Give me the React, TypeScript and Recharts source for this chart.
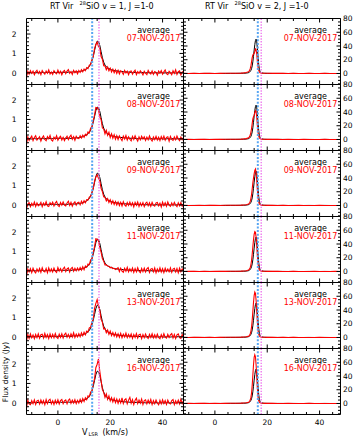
import React from 'react';
import { LineChart, Line, XAxis, YAxis, ReferenceLine } from 'recharts';

// velocity channels (km/s) for the v=1 spectra
const VEL1 = [
  -12, -11.5, -11, -10.5, -10, -9.5, -9, -8.5, -8, -7.5,
  -7, -6.5, -6, -5.5, -5, -4.5, -4, -3.5, -3, -2.5,
  -2, -1.5, -1, -0.5, 0, 0.5, 1, 1.5, 2, 2.5,
  3, 3.5, 4, 4.5, 5, 5.5, 6, 6.5, 7, 7.5,
  8, 8.5, 9, 9.5, 10, 10.5, 11, 11.5, 12, 12.5,
  13, 13.5, 14, 14.5, 15, 15.5, 16, 16.5, 17, 17.5,
  18, 18.5, 19, 19.5, 20, 20.5, 21, 21.5, 22, 22.5,
  23, 23.5, 24, 24.5, 25, 25.5, 26, 26.5, 27, 27.5,
  28, 28.5, 29, 29.5, 30, 30.5, 31, 31.5, 32, 32.5,
  33, 33.5, 34, 34.5, 35, 35.5, 36, 36.5, 37, 37.5,
  38, 38.5, 39, 39.5, 40, 40.5, 41, 41.5, 42, 42.5,
  43, 43.5, 44, 44.5, 45, 45.5, 46, 46.5, 47, 47.5,
  48,
];

const AVG1 = [
  0.01, 0.0, 0.02, 0.01, -0.01, 0.01, 0.02, 0.0, 0.01, 0.02,
  0.0, 0.01, 0.03, 0.01, 0.0, 0.02, 0.01, 0.03, 0.02, 0.01,
  0.02, 0.03, 0.01, 0.02, 0.03, 0.02, 0.04, 0.02, 0.03, 0.02,
  0.03, 0.02, 0.04, 0.03, 0.02, 0.04, 0.05, 0.04, 0.05, 0.06,
  0.06, 0.07, 0.09, 0.11, 0.14, 0.17, 0.21, 0.26, 0.33, 0.45,
  0.62, 0.85, 1.15, 1.45, 1.63, 1.62, 1.42, 1.1, 0.78, 0.55,
  0.4, 0.31, 0.26, 0.22, 0.19, 0.16, 0.14, 0.12, 0.11, 0.1,
  0.09, 0.08, 0.07, 0.07, 0.06, 0.05, 0.05, 0.04, 0.04, 0.03,
  0.03, 0.02, 0.03, 0.02, 0.02, 0.01, 0.02, 0.01, 0.01, 0.02,
  0.01, 0.0, 0.01, 0.01, 0.0, 0.01, 0.0, -0.01, 0.0, 0.01,
  0.0, -0.01, 0.0, 0.01, 0.0, -0.01, 0.0, 0.0, 0.01, 0.0,
  -0.01, 0.0, 0.01, 0.0, -0.01, 0.0, 0.01, 0.0, -0.01, 0.0,
  0.0,
];

const RED1_07 = [
  -0.24, 0.08, -0.06, 0.11, -0.03, 0.09, -0.1, 0.05, 0.13, -0.04,
  0.07, -0.09, 0.12, 0.02, -0.07, 0.1, -0.02, 0.15, -0.06, 0.04,
  -0.08, 0.11, 0.01, -0.05, 0.14, -0.03, 0.08, -0.1, 0.06, 0.12,
  -0.04, 0.09, 0.17, -0.02, 0.07, -0.08, 0.13, 0.01, 0.1, -0.05,
  0.12, 0.02, 0.16, 0.05, 0.2, 0.11, 0.27, 0.22, 0.4, 0.43,
  0.68, 0.82, 1.25, 1.46, 1.58, 1.36, 1.28, 0.84, 0.7, 0.37,
  0.36, 0.16, 0.3, 0.1, 0.24, 0.04, 0.19, 0.0, 0.16, -0.03,
  0.13, -0.06, 0.11, 0.04, -0.08, 0.12, -0.01, 0.09, -0.1, 0.07,
  0.1, -0.07, 0.05, 0.14, -0.09, 0.06, -0.03, 0.11, 0.02, -0.11,
  0.08, -0.02, -0.09, 0.13, 0.01, -0.06, 0.1, -0.08, 0.07, 0.03,
  -0.12, 0.09, -0.01, 0.12, -0.07, 0.05, 0.15, -0.04, -0.09, 0.08,
  0.01, -0.1, 0.11, -0.03, 0.16, -0.08, 0.06, 0.1, -0.11, 0.04,
  0.09,
];

const RED1_08 = [
  -0.28, 0.1, -0.08, 0.04, 0.14, -0.09, 0.07, 0.16, -0.06, 0.02,
  0.11, -0.12, 0.05, 0.15, -0.03, -0.1, 0.12, 0.01, 0.18, -0.05,
  -0.11, 0.09, -0.01, 0.16, -0.07, 0.06, 0.13, -0.06, 0.08, -0.09,
  0.04, 0.14, -0.04, 0.1, 0.19, -0.02, 0.11, -0.08, 0.13, 0.03,
  0.01, 0.16, 0.04, 0.19, 0.08, 0.24, 0.17, 0.36, 0.3, 0.55,
  0.6, 0.94, 1.22, 1.62, 1.6, 1.48, 1.14, 0.99, 0.56, 0.52,
  0.26, 0.44, 0.18, 0.34, 0.07, 0.26, 0.03, 0.21, -0.02, 0.16,
  -0.04, 0.15, 0.02, -0.09, 0.14, -0.01, 0.17, -0.06, 0.11, -0.02,
  -0.1, 0.13, -0.03, 0.16, 0.0, -0.12, 0.1, -0.05, 0.14, -0.01,
  0.11, -0.08, 0.09, -0.05, 0.15, -0.02, -0.11, 0.1, -0.04, 0.13,
  -0.06, 0.09, -0.09, 0.12, -0.03, 0.14, -0.07, 0.08, 0.11, -0.12,
  0.13, -0.03, -0.08, 0.1, -0.05, 0.15, 0.0, -0.09, 0.09, -0.04,
  0.07,
];

const RED1_09 = [
  -0.2, 0.04, 0.12, -0.09, 0.08, -0.04, 0.15, -0.08, 0.1, -0.05,
  0.02, 0.13, -0.1, 0.09, -0.02, 0.16, -0.05, -0.08, 0.11, 0.01,
  0.14, -0.06, 0.09, 0.18, -0.03, -0.09, 0.12, -0.02, 0.15, -0.01,
  -0.06, 0.1, 0.19, -0.03, 0.13, -0.07, 0.08, 0.16, -0.02, 0.11,
  0.14, 0.0, 0.19, 0.06, 0.22, 0.11, 0.27, 0.25, 0.4, 0.44,
  0.64, 0.83, 1.22, 1.44, 1.55, 1.37, 1.24, 0.85, 0.68, 0.41,
  0.39, 0.2, 0.32, 0.12, 0.26, 0.06, 0.21, 0.02, 0.17, -0.01,
  0.15, -0.04, 0.13, -0.06, 0.16, -0.01, -0.07, 0.12, -0.03, 0.14,
  -0.04, 0.11, -0.1, 0.13, -0.02, 0.15, -0.08, 0.1, -0.04, 0.12,
  -0.09, 0.08, 0.14, -0.05, 0.11, -0.08, 0.13, -0.02, -0.07, 0.1,
  0.12, -0.05, 0.09, -0.11, 0.14, -0.04, 0.11, -0.07, 0.15, -0.02,
  -0.08, 0.1, -0.04, 0.13, -0.01, -0.09, 0.11, -0.05, 0.12, -0.07,
  0.06,
];

const RED1_11 = [
  -0.27, 0.09, -0.05, 0.12, -0.09, 0.14, -0.03, -0.11, 0.1, -0.04,
  0.13, -0.08, 0.16, -0.02, -0.06, 0.12, -0.1, 0.15, -0.04, 0.1,
  -0.06, 0.14, -0.02, -0.08, 0.17, -0.01, 0.12, -0.05, 0.11, 0.19,
  -0.03, 0.1, 0.15, -0.06, 0.12, 0.18, -0.02, 0.13, 0.0, 0.15,
  0.02, 0.17, 0.04, 0.21, 0.06, 0.25, 0.18, 0.35, 0.32, 0.57,
  0.62, 0.97, 1.24, 1.65, 1.63, 1.54, 1.2, 0.96, 0.63, 0.5,
  0.31, 0.31, 0.25, 0.24, 0.16, 0.19, 0.11, 0.13, 0.07, 0.11,
  0.16, -0.04, 0.14, -0.01, -0.07, 0.13, -0.02, 0.18, -0.05, 0.11,
  -0.03, 0.15, -0.08, 0.12, -0.05, 0.16, -0.02, -0.09, 0.13, -0.04,
  0.14, -0.06, 0.1, 0.17, -0.08, 0.09, 0.12, -0.05, 0.15, -0.1,
  0.1, -0.04, 0.16, -0.06, 0.11, -0.09, 0.14, -0.03, 0.1, -0.05,
  0.15, -0.08, 0.09, 0.13, -0.06, 0.12, -0.1, 0.14, -0.04, 0.1,
  -0.02,
];

const RED1_13 = [
  -0.24, 0.12, -0.08, 0.15, -0.05, 0.1, -0.1, 0.13, -0.04, 0.16,
  -0.07, 0.11, 0.14, -0.06, 0.18, -0.03, 0.12, -0.09, 0.15, -0.04,
  0.13, -0.05, 0.17, -0.02, -0.08, 0.14, -0.03, 0.16, -0.06, 0.12,
  0.19, -0.02, 0.13, -0.04, 0.16, -0.01, 0.21, -0.03, 0.14, 0.0,
  0.16, 0.01, 0.21, 0.06, 0.24, 0.1, 0.3, 0.25, 0.46, 0.49,
  0.76, 0.92, 1.46, 1.72, 1.92, 1.59, 1.38, 0.9, 0.76, 0.4,
  0.43, 0.21, 0.35, 0.13, 0.29, 0.06, 0.22, 0.03, 0.2, 0.0,
  0.16, -0.02, 0.18, -0.05, 0.14, -0.01, 0.19, -0.04, 0.13, -0.02,
  0.15, -0.08, 0.12, -0.03, 0.17, -0.06, 0.11, 0.14, -0.09, 0.12,
  -0.04, 0.15, -0.02, -0.08, 0.13, -0.03, 0.16, -0.05, 0.11, -0.06,
  0.14, -0.03, -0.1, 0.12, -0.04, 0.16, -0.02, -0.07, 0.13, -0.03,
  0.11, 0.17, -0.06, 0.12, -0.09, 0.1, 0.15, -0.04, -0.08, 0.12,
  0.02,
];

const RED1_16 = [
  -0.26, 0.14, -0.05, -0.09, 0.12, -0.04, 0.16, -0.08, 0.1, 0.13,
  -0.06, 0.15, -0.03, 0.12, -0.1, 0.17, -0.04, 0.13, 0.19, -0.05,
  0.11, -0.08, 0.14, -0.03, 0.16, -0.06, 0.12, 0.18, -0.04, 0.1,
  0.15, -0.05, 0.13, 0.2, -0.03, 0.14, -0.01, 0.17, -0.04, 0.13,
  -0.01, 0.18, 0.02, 0.22, 0.07, 0.26, 0.16, 0.36, 0.32, 0.56,
  0.58, 0.98, 1.24, 1.81, 1.99, 2.26, 1.64, 1.16, 0.68, 0.54,
  0.28, 0.46, 0.18, 0.36, 0.1, 0.27, 0.05, 0.24, 0.01, 0.2,
  -0.03, 0.18, 0.0, 0.26, -0.04, 0.15, 0.21, -0.05, 0.14, 0.28,
  -0.02, 0.17, -0.09, 0.13, 0.24, -0.04, 0.15, -0.01, 0.2, -0.08,
  0.12, 0.16, -0.05, 0.14, -0.02, 0.18, -0.09, 0.12, -0.04, 0.15,
  -0.01, -0.1, 0.13, -0.05, 0.16, -0.03, 0.12, -0.08, 0.14, -0.02,
  -0.06, 0.12, 0.17, -0.09, 0.11, -0.04, 0.14, -0.05, 0.19, -0.03,
  0.11,
];

// velocity channels (km/s) for the v=2 spectra
const VEL2 = [
  -12, -10, -8, -6, -4, -2, 0, 2, 4, 6, 8, 10, 11, 12, 12.5,
  13, 13.25, 13.5, 13.75, 14, 14.25, 14.5, 14.75, 15, 15.25, 15.5, 15.75, 16, 16.25, 16.5, 16.75, 17, 17.25, 17.5,
  18, 18.5, 19, 20, 22, 24, 26, 28, 30, 32, 34, 36, 38, 40, 42, 44, 46, 48,
];

const AVG2 = [
  0.1, 0.0, 0.1, 0.0, 0.1, 0.1, 0.0, 0.1, 0.1, 0.2, 0.2, 0.3, 0.4, 0.6, 0.9,
  1.4, 2.0, 3.0, 4.5, 7, 11, 17, 25, 34, 42, 48, 50, 46, 36, 24, 13, 6, 3, 1.5,
  0.8, 0.5, 0.3, 0.2, 0.1, 0.1, 0.1, 0.0, 0.1, 0.0, 0.0, 0.1, 0.0, 0.0, 0.1, 0.0, 0.0, 0.0,
];

const RED2_07 = [
  0.2, 0.1, 0.2, 0.1, 0.2, 0.2, 0.1, 0.2, 0.3, 0.3, 0.4, 0.6, 0.9, 1.4, 2.1,
  3.0, 4.5, 7.0, 11, 17, 23, 27, 28, 29, 32, 36, 35, 28, 17, 9, 4.5, 2.2, 1.2, 0.8,
  0.5, 0.4, 0.3, 0.3, 0.2, 0.2, 0.2, 0.1, 0.2, 0.1, 0.1, 0.2, 0.1, 0.1, 0.2, 0.1, 0.1, 0.1,
];
const RED2_08 = [
  0.1, 0.2, 0.1, 0.2, 0.2, 0.1, 0.2, 0.2, 0.3, 0.4, 0.4, 0.6, 0.9, 1.3, 2.0,
  2.8, 4.2, 6.5, 10.5, 16, 23, 30, 33, 35, 39, 42, 40, 32, 20, 10, 5, 2.4, 1.3, 0.8,
  0.5, 0.4, 0.3, 0.2, 0.2, 0.2, 0.1, 0.2, 0.1, 0.1, 0.2, 0.1, 0.1, 0.1, 0.2, 0.1, 0.1, 0.1,
];
const RED2_09 = [
  0.2, 0.1, 0.1, 0.2, 0.1, 0.2, 0.2, 0.1, 0.3, 0.3, 0.4, 0.5, 0.8, 1.2, 1.8,
  2.5, 4.0, 6.0, 10, 16, 24, 33, 40, 46, 51, 53, 48, 36, 22, 11, 5, 2.4, 1.3, 0.8,
  0.5, 0.3, 0.3, 0.2, 0.2, 0.1, 0.2, 0.1, 0.1, 0.2, 0.1, 0.1, 0.1, 0.2, 0.1, 0.1, 0.1, 0.1,
];
const RED2_11 = [
  0.1, 0.2, 0.2, 0.1, 0.2, 0.1, 0.2, 0.2, 0.2, 0.3, 0.4, 0.5, 0.8, 1.2, 1.7,
  2.4, 3.8, 5.8, 9.5, 16, 25, 36, 46, 54, 58, 57, 50, 37, 22, 11, 5, 2.3, 1.2, 0.7,
  0.5, 0.3, 0.3, 0.2, 0.2, 0.2, 0.1, 0.1, 0.2, 0.1, 0.1, 0.1, 0.2, 0.1, 0.1, 0.1, 0.2, 0.1,
];
const RED2_13 = [
  0.2, 0.1, 0.2, 0.2, 0.1, 0.2, 0.1, 0.2, 0.3, 0.3, 0.3, 0.5, 0.7, 1.1, 1.6,
  2.2, 3.5, 5.5, 9, 15, 25, 38, 51, 61, 66, 64, 54, 38, 22, 10, 4.5, 2.1, 1.1, 0.7,
  0.4, 0.3, 0.3, 0.2, 0.2, 0.1, 0.2, 0.1, 0.2, 0.1, 0.1, 0.1, 0.1, 0.2, 0.1, 0.1, 0.1, 0.1,
];
const RED2_16 = [
  0.1, 0.2, 0.1, 0.2, 0.2, 0.1, 0.2, 0.1, 0.2, 0.3, 0.3, 0.5, 0.7, 1.0, 1.5,
  2.0, 3.2, 5.0, 8.5, 15, 26, 41, 56, 67, 71, 68, 56, 38, 21, 9, 4, 2.0, 1.0, 0.6,
  0.4, 0.3, 0.2, 0.2, 0.2, 0.1, 0.1, 0.2, 0.1, 0.1, 0.1, 0.2, 0.1, 0.1, 0.1, 0.1, 0.1, 0.1,
];

const DATES = ['07-NOV-2017', '08-NOV-2017', '09-NOV-2017', '11-NOV-2017', '13-NOV-2017', '16-NOV-2017'];
const RED1 = [RED1_07, RED1_08, RED1_09, RED1_11, RED1_13, RED1_16];
const RED2 = [RED2_07, RED2_08, RED2_09, RED2_11, RED2_13, RED2_16];

const X_DOMAIN = [-12, 48];
const X_MAJOR = [0, 20, 40];
const X_MINOR = [-10, -5, 5, 10, 15, 25, 30, 35, 45];
const Y1_DOMAIN = [-0.6, 2.8];
const Y1_MAJOR = [0, 1, 2];
const Y1_MINOR = [-0.4, -0.2, 0.2, 0.4, 0.6, 0.8, 1.2, 1.4, 1.6, 1.8, 2.2, 2.4, 2.6];
const Y2_DOMAIN = [-16, 80];
const Y2_MAJOR = [0, 20, 40, 60, 80];
const Y2_MINOR = [-15, -10, -5, 5, 10, 15, 25, 30, 35, 45, 50, 55, 65, 70, 75];
const VLINES1 = { blue: 13.1, magenta: 15.7 };
const VLINES2 = { blue: 16.4, magenta: 17.7 };

const FONT = 'DejaVu Sans';
const TOP0 = 18;
const ROW_H = 66;
const MAJ = -4;
const MIN = -2.5;
const TINY = 0.001;
const tickText = { fontSize: 7.5, fill: '#000', fontFamily: FONT };
const NoLabel = () => <g />;

const toPoints = (vel: number[], vals: number[]) => vel.map((v, i) => ({ v, f: vals[i] }));

function Panel({ col, row }: { col: number; row: number }) {
  const isLeft = col === 0;
  const last = row === 5;
  const top = TOP0 + ROW_H * row;
  const mt = 5.5;
  const mb = last ? 18.5 : 4.5;
  const height = mt + ROW_H + mb;
  const width = isLeft ? 184 : 171;
  const margin = isLeft
    ? { top: mt, bottom: mb, left: 26.5, right: 0.5 }
    : { top: mt, bottom: mb, left: 0.5, right: 13.5 };
  const yDomain = isLeft ? Y1_DOMAIN : Y2_DOMAIN;
  const yMajor = isLeft ? Y1_MAJOR : Y2_MAJOR;
  const yMinor = isLeft ? Y1_MINOR : Y2_MINOR;
  const avg = isLeft ? toPoints(VEL1, AVG1) : toPoints(VEL2, AVG2);
  const red = isLeft ? toPoints(VEL1, RED1[row]) : toPoints(VEL2, RED2[row]);
  const vl = isLeft ? VLINES1 : VLINES2;
  const ax = { stroke: '#000' };
  return (
    <div style={{ position: 'absolute', left: isLeft ? 0 : 183, top: top - 5, width, height }}>
      <LineChart width={width} height={height} margin={margin}>
        <XAxis xAxisId="x" dataKey="v" type="number" domain={X_DOMAIN} allowDataOverflow ticks={X_MAJOR}
          interval={0} orientation="bottom" height={TINY} tickSize={MAJ} tickMargin={9.5}
          tick={last ? tickText : NoLabel} stroke="#000" axisLine={ax} tickLine={ax} />
        <XAxis xAxisId="xm" dataKey="v" type="number" domain={X_DOMAIN} allowDataOverflow ticks={X_MINOR}
          interval={0} orientation="bottom" height={TINY} tickSize={MIN} tick={NoLabel} axisLine={false} tickLine={ax} />
        <XAxis xAxisId="xt" dataKey="v" type="number" domain={X_DOMAIN} allowDataOverflow ticks={X_MAJOR}
          interval={0} orientation="top" height={TINY} tickSize={MAJ} tick={NoLabel} stroke="#000" axisLine={ax} tickLine={ax} />
        <XAxis xAxisId="xtm" dataKey="v" type="number" domain={X_DOMAIN} allowDataOverflow ticks={X_MINOR}
          interval={0} orientation="top" height={TINY} tickSize={MIN} tick={NoLabel} axisLine={false} tickLine={ax} />
        <YAxis yAxisId="y" type="number" domain={yDomain} allowDataOverflow ticks={yMajor} interval={0}
          orientation="left" width={TINY} tickSize={MAJ} tickMargin={14}
          tick={isLeft ? tickText : NoLabel} stroke="#000" axisLine={ax} tickLine={ax} />
        <YAxis yAxisId="ym" type="number" domain={yDomain} allowDataOverflow ticks={yMinor} interval={0}
          orientation="left" width={TINY} tickSize={MIN} tick={NoLabel} axisLine={false} tickLine={ax} />
        <YAxis yAxisId="yr" type="number" domain={yDomain} allowDataOverflow ticks={yMajor} interval={0}
          orientation="right" width={TINY} tickSize={MAJ} tickMargin={6.5}
          tick={isLeft ? NoLabel : tickText} stroke="#000" axisLine={ax} tickLine={ax} />
        <YAxis yAxisId="yrm" type="number" domain={yDomain} allowDataOverflow ticks={yMinor} interval={0}
          orientation="right" width={TINY} tickSize={MIN} tick={NoLabel} axisLine={false} tickLine={ax} />
        <Line xAxisId="x" yAxisId="y" data={avg} dataKey="f" type="linear" stroke="#000" strokeWidth={1}
          dot={false} isAnimationActive={false} />
        <Line xAxisId="x" yAxisId="y" data={red} dataKey="f" type="linear" stroke="#ff0000" strokeWidth={1.1}
          dot={false} isAnimationActive={false} />
        <ReferenceLine xAxisId="x" yAxisId="y" x={vl.blue} stroke="#58a6f2" strokeWidth={2} strokeDasharray="2 1.6" />
        <ReferenceLine xAxisId="x" yAxisId="y" x={vl.magenta} stroke="#ee7cee" strokeWidth={1.4} strokeDasharray="1.4 1.4" />
      </LineChart>
    </div>
  );
}

export default function App() {
  const rows = [0, 1, 2, 3, 4, 5];
  return (
    <div style={{ position: 'absolute', left: 0, top: 0, width: 354, height: 436, background: '#fff', overflow: 'hidden', fontFamily: FONT }}>
      {rows.map((r) => (
        <React.Fragment key={r}>
          <Panel col={0} row={r} />
          <Panel col={1} row={r} />
        </React.Fragment>
      ))}
      <svg width={354} height={436} style={{ position: 'absolute', left: 0, top: 0, pointerEvents: 'none' }}
        fontFamily={FONT}>
        <text x={50} y={9.2} fontSize={8}>RT Vir</text>
        <text x={79.5} y={5} fontSize={5}>28</text>
        <text x={86} y={9.2} fontSize={8}>SiO v = 1, J =1-0</text>
        <text x={205} y={9.2} fontSize={8}>RT Vir</text>
        <text x={234.5} y={5} fontSize={5}>28</text>
        <text x={241} y={9.2} fontSize={8}>SiO v = 2, J =1-0</text>
        {rows.map((r) => {
          const t = TOP0 + ROW_H * r;
          return (
            <React.Fragment key={r}>
              <text x={153.5} y={t + 14.5} fontSize={8} textAnchor="middle" fill="#000">average</text>
              <text x={153.5} y={t + 22.5} fontSize={8} textAnchor="middle" fill="#ff0000">{DATES[r]}</text>
              <text x={310.5} y={t + 14.5} fontSize={8} textAnchor="middle" fill="#000">average</text>
              <text x={310.5} y={t + 22.5} fontSize={8} textAnchor="middle" fill="#ff0000">{DATES[r]}</text>
            </React.Fragment>
          );
        })}
        <text x={5} y={372} fontSize={7.5} textAnchor="middle" dominantBaseline="central"
          transform="rotate(-90 5 372)">Flux density (Jy)</text>
        <text x={82} y={434.5} fontSize={8}>V</text>
        <text x={88.5} y={435.5} fontSize={5}>LSR</text>
        <text x={102.5} y={434.5} fontSize={8}>(km/s)</text>
      </svg>
    </div>
  );
}
